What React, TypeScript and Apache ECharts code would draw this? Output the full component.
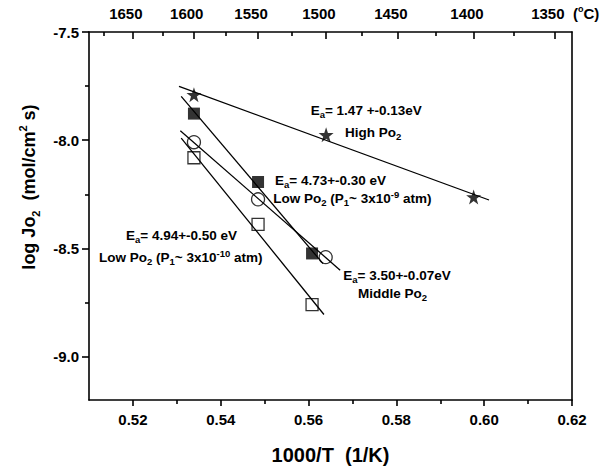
import React, { useEffect, useRef } from "react";
import * as echarts from "echarts";

// Axis ranges (1000/T in 1/K, log Jo2)
const X_MIN = 0.51;
const X_MAX = 0.62;
const Y_MIN = -9.2;
const Y_MAX = -7.5;

// Tick positions
const xMajorTicks = [0.52, 0.54, 0.56, 0.58, 0.6, 0.62];
const xMinorTicks = [0.53, 0.55, 0.57, 0.59, 0.61];
const yMajorTicks = [-9.0, -8.5, -8.0, -7.5];
const yMinorTicks = [-8.75, -8.25, -7.75];
const tempMajorC = [1650, 1600, 1550, 1500, 1450, 1400, 1350];
const tempMinorC = [1675, 1625, 1575, 1525, 1475, 1425, 1375];

// High Po2 (stars)
const highX = [0.5339, 0.564, 0.5976];
const highY = [-7.79, -7.975, -8.262];
const highFit = [0.5305, 0.6011];

// Low Po2, P1 ~ 3e-9 atm (filled squares)
const lowX = [0.5339, 0.5485, 0.5608];
const lowY = [-7.877, -8.193, -8.523];
const lowFit = [0.531, 0.5633];

// Middle Po2 (open circles)
const midX = [0.5339, 0.5485, 0.5639];
const midY = [-8.009, -8.273, -8.54];
const midFit = [0.5308, 0.5672];

// Low Po2, P1 ~ 3e-10 atm (open squares)
const lowerX = [0.5339, 0.5485, 0.5608];
const lowerY = [-8.081, -8.389, -8.759];
const lowerFit = [0.531, 0.5635];

const FONT = "'Liberation Sans', Arial, Helvetica, sans-serif";
const STAR = "path://M50,0 L61.8,35.1 L98.1,35.1 L68.8,56.7 L79.4,91 L50,70 L20.6,91 L31.2,56.7 L1.9,35.1 L38.2,35.1 Z";

const toPairs = (xs: number[], ys: number[]) => xs.map((x, i) => [x, ys[i]]);

// Least-squares straight line through the points, drawn over [from, to]
function fitLine(xs: number[], ys: number[], range: number[]) {
  const n = xs.length;
  const mx = xs.reduce((a, b) => a + b, 0) / n;
  const my = ys.reduce((a, b) => a + b, 0) / n;
  let sxy = 0;
  let sxx = 0;
  for (let i = 0; i < n; i++) {
    sxy += (xs[i] - mx) * (ys[i] - my);
    sxx += (xs[i] - mx) * (xs[i] - mx);
  }
  const k = sxy / sxx;
  const b = my - k * mx;
  return range.map((x) => [x, k * x + b]);
}

const cToInvT = (c: number) => 1000 / (c + 273.15);

const lineStyle = { color: "#000", width: 1.6 };

function App() {
  const ref = useRef<HTMLDivElement>(null);

  useEffect(() => {
    if (!ref.current) return;
    const chart = echarts.init(ref.current, null, { renderer: "svg" });

    const labelStyle = {
      color: "#000",
      fontFamily: FONT,
      fontWeight: "bold" as const,
      fontSize: 15,
    };

    const annoRich = {
      sub: { fontSize: 9.5, lineHeight: 7, verticalAlign: "bottom", fontFamily: FONT, fontWeight: "bold", fill: "#000" },
      sup: { fontSize: 9.5, lineHeight: 7, verticalAlign: "top", fontFamily: FONT, fontWeight: "bold", fill: "#000" },
    };

    const anno = (x: number, y: number, text: string) => ({
      type: "text",
      x,
      y,
      silent: true,
      style: {
        text,
        fontFamily: FONT,
        fontWeight: "bold",
        fontSize: 13.5,
        lineHeight: 18,
        fill: "#000",
        align: "left",
        verticalAlign: "middle",
        rich: annoRich,
      },
    });

    const scatter = (name: string, xs: number[], ys: number[], symbol: string, size: number, filled: boolean) => ({
      name,
      type: "scatter",
      data: toPairs(xs, ys),
      symbol,
      symbolSize: size,
      z: 3,
      itemStyle: filled
        ? { color: "#000" }
        : { color: "rgba(0,0,0,0)", borderColor: "#000", borderWidth: 1.3 },
    });

    const fit = (name: string, xs: number[], ys: number[], range: number[]) => ({
      name,
      type: "line",
      data: fitLine(xs, ys, range),
      showSymbol: false,
      symbol: "none",
      z: 2,
      lineStyle: { color: "#000", width: 1.3 },
    });

    chart.setOption({
      animation: false,
      backgroundColor: "#fff",
      grid: { left: 89, right: 41, top: 32, bottom: 67, containLabel: false },
      xAxis: [
        {
          type: "value",
          position: "bottom",
          min: X_MIN,
          max: X_MAX,
          axisLine: { show: true, onZero: false, lineStyle },
          axisTick: { show: true, inside: false, length: 6, customValues: xMajorTicks, lineStyle },
          axisLabel: {
            ...labelStyle,
            margin: 12,
            customValues: xMajorTicks,
            formatter: (v: number) => v.toFixed(2),
          },
          splitLine: { show: false },
        },
        {
          type: "value",
          position: "bottom",
          min: X_MIN,
          max: X_MAX,
          axisLine: { show: false, onZero: false },
          axisTick: { show: true, inside: false, length: 4, customValues: xMinorTicks, lineStyle },
          axisLabel: { show: false },
          splitLine: { show: false },
        },
        {
          type: "value",
          position: "top",
          min: X_MIN,
          max: X_MAX,
          axisLine: { show: true, onZero: false, lineStyle },
          axisTick: { show: true, inside: true, length: 7, customValues: tempMajorC.map(cToInvT), lineStyle },
          axisLabel: {
            ...labelStyle,
            margin: 11,
            // temperature labels sit a little to the left of their ticks
            padding: [0, 14, 0, 0],
            customValues: tempMajorC.map(cToInvT),
            formatter: (v: number) => String(Math.round(1000 / v - 273.15)),
          },
          splitLine: { show: false },
        },
        {
          type: "value",
          position: "top",
          min: X_MIN,
          max: X_MAX,
          axisLine: { show: false, onZero: false },
          axisTick: { show: true, inside: true, length: 4, customValues: tempMinorC.map(cToInvT), lineStyle },
          axisLabel: { show: false },
          splitLine: { show: false },
        },
      ],
      yAxis: [
        {
          type: "value",
          position: "left",
          min: Y_MIN,
          max: Y_MAX,
          axisLine: { show: true, onZero: false, lineStyle },
          axisTick: { show: true, inside: false, length: 7, customValues: yMajorTicks, lineStyle },
          axisLabel: {
            ...labelStyle,
            margin: 10,
            customValues: yMajorTicks,
            formatter: (v: number) => v.toFixed(1),
          },
          splitLine: { show: false },
        },
        {
          type: "value",
          position: "left",
          min: Y_MIN,
          max: Y_MAX,
          axisLine: { show: false, onZero: false },
          axisTick: { show: true, inside: false, length: 4, customValues: yMinorTicks, lineStyle },
          axisLabel: { show: false },
          splitLine: { show: false },
        },
        {
          type: "value",
          position: "right",
          min: Y_MIN,
          max: Y_MAX,
          axisLine: { show: true, onZero: false, lineStyle },
          axisTick: { show: false },
          axisLabel: { show: false },
          splitLine: { show: false },
        },
      ],
      series: [
        fit("High Po2 fit", highX, highY, highFit),
        fit("Low Po2 (3e-9) fit", lowX, lowY, lowFit),
        fit("Middle Po2 fit", midX, midY, midFit),
        fit("Low Po2 (3e-10) fit", lowerX, lowerY, lowerFit),
        scatter("High Po2", highX, highY, STAR, 15, true),
        scatter("Low Po2 (3e-9)", lowX, lowY, "rect", 12, true),
        scatter("Middle Po2", midX, midY, "circle", 13, false),
        scatter("Low Po2 (3e-10)", lowerX, lowerY, "rect", 12, false),
      ],
      graphic: [
        // bottom axis title
        {
          type: "text",
          x: 330.5,
          y: 455,
          silent: true,
          style: {
            text: "1000/T \u00a0(1/K)",
            fontFamily: FONT,
            fontWeight: "bold",
            fontSize: 20,
            fill: "#000",
            align: "center",
            verticalAlign: "middle",
          },
        },
        // left axis title
        {
          type: "text",
          x: 29,
          y: 187,
          rotation: Math.PI / 2,
          silent: true,
          style: {
            text: "log Jo{sub|2} \u00a0(mol/cm{sup|2} s)",
            fontFamily: FONT,
            fontWeight: "bold",
            fontSize: 18,
            lineHeight: 24,
            fill: "#000",
            align: "center",
            verticalAlign: "middle",
            rich: {
              sub: { fontSize: 11, lineHeight: 10, verticalAlign: "bottom", fontFamily: FONT, fontWeight: "bold", fill: "#000" },
              sup: { fontSize: 11, lineHeight: 9, verticalAlign: "top", fontFamily: FONT, fontWeight: "bold", fill: "#000" },
            },
          },
        },
        // top axis unit
        {
          type: "text",
          x: 573,
          y: 13.5,
          silent: true,
          style: {
            text: "({sup|o}C)",
            fontFamily: FONT,
            fontWeight: "bold",
            fontSize: 15,
            lineHeight: 18,
            fill: "#000",
            align: "left",
            verticalAlign: "middle",
            rich: {
              sup: { fontSize: 9, lineHeight: 8, verticalAlign: "top", fontFamily: FONT, fontWeight: "bold", fill: "#000" },
            },
          },
        },
        anno(310.7, 110, "E{sub|a}= 1.47 +-0.13eV"),
        anno(345, 132, "High Po{sub|2}"),
        anno(275, 180, "E{sub|a}= 4.73+-0.30 eV"),
        anno(273.3, 198, "Low Po{sub|2} (P{sub|1}~ 3x10{sup|-9} atm)"),
        anno(126, 235, "E{sub|a}= 4.94+-0.50 eV"),
        anno(99, 257, "Low Po{sub|2} (P{sub|1}~ 3x10{sup|-10} atm)"),
        anno(343.3, 275, "E{sub|a}= 3.50+-0.07eV"),
        anno(358, 293, "Middle Po{sub|2}"),
      ],
    });

    return () => chart.dispose();
  }, []);

  return (
    <div
      ref={ref}
      style={{ position: "fixed", left: 0, top: 0, width: 613, height: 467, background: "#fff" }}
    />
  );
}

export default App;
